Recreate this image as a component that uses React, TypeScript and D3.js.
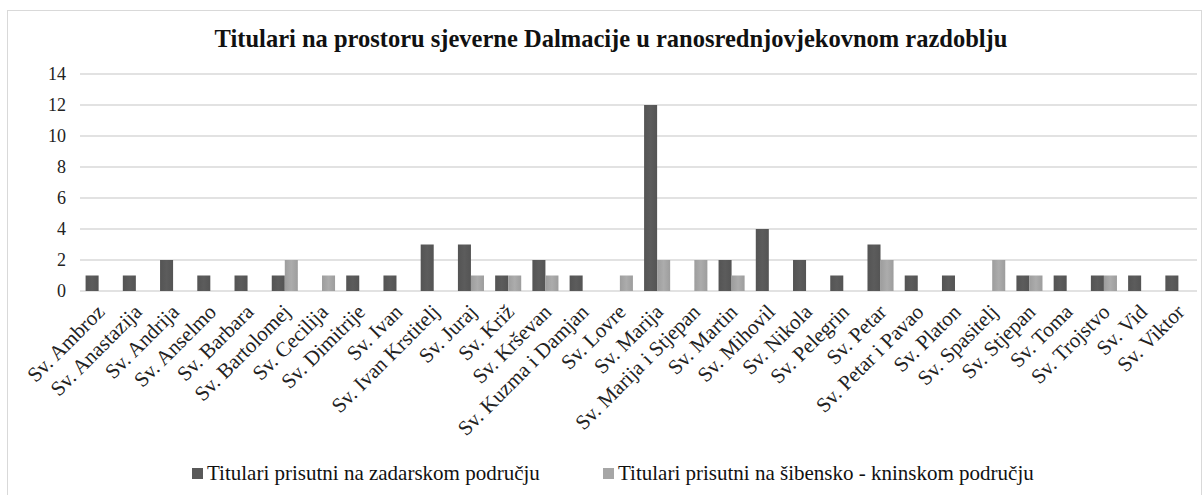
import { useEffect, useRef } from 'react';
import * as d3 from 'd3';

const categories = [
  'Sv. Ambroz', 'Sv. Anastazija', 'Sv. Andrija', 'Sv. Anselmo', 'Sv. Barbara',
  'Sv. Bartolomej', 'Sv. Cecilija', 'Sv. Dimitrije', 'Sv. Ivan', 'Sv. Ivan Krstitelj',
  'Sv. Juraj', 'Sv. Križ', 'Sv. Krševan', 'Sv. Kuzma i Damjan', 'Sv. Lovre',
  'Sv. Marija', 'Sv. Marija i Stjepan', 'Sv. Martin', 'Sv. Mihovil', 'Sv. Nikola',
  'Sv. Pelegrin', 'Sv. Petar', 'Sv. Petar i Pavao', 'Sv. Platon', 'Sv. Spasitelj',
  'Sv. Stjepan', 'Sv. Toma', 'Sv. Trojstvo', 'Sv. Vid', 'Sv. Viktor',
];
const zadar = [1, 1, 2, 1, 1, 1, 0, 1, 1, 3, 3, 1, 2, 1, 0, 12, 0, 2, 4, 2, 1, 3, 1, 1, 0, 1, 1, 1, 1, 1];
const sibenik = [0, 0, 0, 0, 0, 2, 1, 0, 0, 0, 1, 1, 1, 0, 1, 2, 2, 1, 0, 0, 0, 2, 0, 0, 2, 1, 0, 1, 0, 0];
const yTicks = [0, 2, 4, 6, 8, 10, 12, 14];
const seriesNames = ['Titulari prisutni na zadarskom području', 'Titulari prisutni na šibensko - kninskom području'];
const seriesColors = ['#595959', '#a6a6a6'];

const W = 1203;
const H = 495;
const FONT = "'Liberation Serif', 'DejaVu Serif', serif";

export default function App() {
  const svgRef = useRef<SVGSVGElement>(null);

  useEffect(() => {
    if (!svgRef.current) return;
    const svg = d3.select(svgRef.current);
    svg.selectAll('*').remove();

    const left = 80, right = 1197, top = 74, bottom = 291;

    // chart frame
    svg.append('rect')
      .attr('x', 7.5).attr('y', 10.5)
      .attr('width', 1194).attr('height', 490)
      .attr('fill', 'white').attr('stroke', '#d9d9d9');

    svg.append('text')
      .attr('x', 611).attr('y', 47)
      .attr('text-anchor', 'middle')
      .attr('font-family', FONT).attr('font-size', 24.5).attr('font-weight', 'bold')
      .attr('fill', '#111')
      .text('Titulari na prostoru sjeverne Dalmacije u ranosrednjovjekovnom razdoblju');

    const x = d3.scaleBand<string>().domain(categories).range([left, right]);
    const y = d3.scaleLinear().domain([0, 14]).range([bottom, top]);
    const bw = x.bandwidth() * 0.35;

    // gridlines
    svg.append('g').selectAll('line').data(yTicks).join('line')
      .attr('x1', left).attr('x2', right)
      .attr('y1', d => y(d)).attr('y2', d => y(d))
      .attr('stroke', '#d9d9d9').attr('stroke-width', 1.3);

    // y labels
    svg.append('g').selectAll('text').data(yTicks).join('text')
      .attr('x', 66).attr('y', d => y(d))
      .attr('dy', '0.35em')
      .attr('text-anchor', 'end')
      .attr('font-family', FONT).attr('font-size', 18)
      .attr('fill', '#222')
      .text(d => d);

    const defs = svg.append('defs');
    seriesColors.forEach((c, i) => {
      const g = defs.append('linearGradient').attr('id', `grad${i}`).attr('x1', 0).attr('x2', 1);
      g.append('stop').attr('offset', '0%').attr('stop-color', d3.color(c)!.darker(0.15).toString());
      g.append('stop').attr('offset', '50%').attr('stop-color', d3.color(c)!.brighter(0.1).toString());
      g.append('stop').attr('offset', '100%').attr('stop-color', d3.color(c)!.darker(0.15).toString());
    });

    [zadar, sibenik].forEach((vals, si) => {
      svg.append('g').selectAll('rect').data(vals).join('rect')
        .attr('x', (_, i) => x(categories[i])! + x.bandwidth() / 2 - bw + si * bw)
        .attr('y', d => y(d))
        .attr('width', bw)
        .attr('height', d => y(0) - y(d))
        .attr('fill', `url(#grad${si})`);
    });

    // x labels
    svg.append('g').selectAll('text').data(categories).join('text')
      .attr('transform', d => `translate(${x(d)! + x.bandwidth() / 2 + 2},${bottom + 17}) rotate(-45)`)
      .attr('text-anchor', 'end')
      .attr('dy', '0.35em')
      .attr('font-family', FONT).attr('font-size', 21)
      .attr('fill', '#222')
      .text(d => d);

    // legend
    const legendX = [192, 603];
    seriesNames.forEach((name, i) => {
      svg.append('rect')
        .attr('x', legendX[i]).attr('y', 468)
        .attr('width', 11).attr('height', 11)
        .attr('fill', seriesColors[i]);
      svg.append('text')
        .attr('x', legendX[i] + 15).attr('y', 480)
        .attr('font-family', FONT).attr('font-size', 21)
        .attr('fill', '#111')
        .text(name);
    });
  }, []);

  return (
    <svg ref={svgRef} width={W} height={H}
      style={{ position: 'absolute', left: 0, top: 0, display: 'block' }} />
  );
}
